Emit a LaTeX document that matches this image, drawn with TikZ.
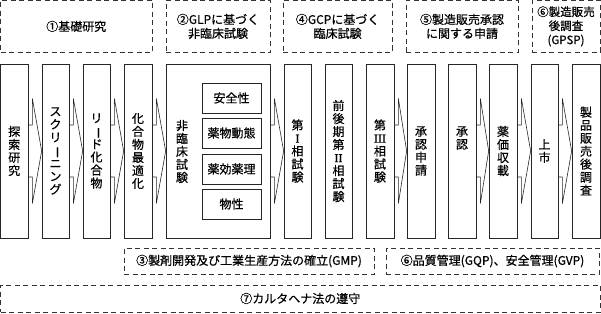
\documentclass[tikz,border=0pt]{standalone}
\usepackage{fontspec}
\setmainfont{Noto Sans CJK JP}[RawFeature={embolden=0.6}]
\newfontfamily\rnfont{Liberation Serif}[RawFeature={embolden=0.6}]
\newcommand\rn[1]{{\rnfont #1}}
\newcommand\vbar{\rotatebox[origin=c]{-90}{ー}}
\usetikzlibrary{calc}
\newcommand\blockarrow[2]{%
  \draw[conn] ($(#1.east)+(0,-26)$) -- ++(4,0) -- ++(0,-26.5) -- (#2.west)
    -- ($(#1.east)+(4,52.5)$) -- ++(0,-26.5) -- ($(#1.east)+(0,26)$);}
\begin{document}
\begin{tikzpicture}[x=1pt,y=-1pt,
  stage/.style={draw=black!85, line width=0.7pt, minimum height=174pt, inner sep=0pt,
    align=center, font=\fontsize{12}{13}\selectfont},
  vtext/.style={inner sep=0pt, align=center, font=\fontsize{12}{13}\selectfont},
  sub/.style={draw=black!85, line width=0.7pt, minimum width=59pt, minimum height=30pt,
    inner sep=0pt, font=\fontsize{12}{14}\selectfont},
  phase/.style={draw=black!80, dash pattern=on 5pt off 3.5pt, line width=0.7pt,
    inner sep=0pt, align=center, font=\fontsize{12}{14}\selectfont},
  conn/.style={draw=black!85, line width=0.6pt, line join=miter}]
\useasboundingbox (0,0) rectangle (601,313);

% top phase boxes
\node[phase, minimum width=151.5pt, minimum height=52.2pt] (p1) at (76.25,26.4) {①基礎研究};
\node[phase, minimum width=104pt, minimum height=52.2pt] (p2) at (218,26.4) {②GLPに基づく\\非臨床試験};
\node[phase, minimum width=108.5pt, minimum height=52.2pt] (p4) at (337.6,26.4) {④GCPに基づく\\臨床試験};
\node[phase, minimum width=112pt, minimum height=52.2pt] (p5) at (462,26.4) {⑤製造販売承認\\に関する申請};
\node[phase, minimum width=68pt, minimum height=52.2pt, font=\fontsize{11.5}{14}\selectfont] (p6) at (566,26.4) {⑥製造販売\\後調査\\(GPSP)};

% stage boxes
\node[stage, minimum width=27.5pt] (s1) at (14.25,151) {探\\索\\研\\究};
\node[stage, minimum width=27pt] (s2) at (55.5,151) {ス\\ク\\リ\\\vbar\\ニ\\ン\\グ};
\node[stage, minimum width=27pt] (s3) at (96.5,151) {リ\\\vbar\\ド\\化\\合\\物};
\node[stage, minimum width=28pt] (s4) at (138,151) {化\\合\\物\\最\\適\\化};
\node[stage, minimum width=104pt] (s5) at (218,151) {};
\node[vtext] (t5) at (182,151.5) {非\\臨\\床\\試\\験};
\node[sub] (n1) at (231.5,98) {安全性};
\node[sub] (n2) at (231.5,133) {薬物動態};
\node[sub] (n3) at (231.5,169) {薬効薬理};
\node[sub] (n4) at (231.5,204) {物性};
\node[stage, minimum width=27pt] (s6) at (297.5,151) {第\\\rn{I}\\相\\試\\験};
\node[stage, minimum width=27pt] (s7) at (338.5,151) {前\\後\\期\\第\\\rn{II}\\相\\試\\験};
\node[stage, minimum width=28pt] (s8) at (380,151) {第\\\rn{III}\\相\\試\\験};
\node[stage, minimum width=28pt] (s9) at (421,151) {承\\認\\申\\請};
\node[stage, minimum width=28pt] (s10) at (462,151) {承\\認\\\phantom{申}\\\phantom{請}};
\node[stage, minimum width=28pt] (s11) at (503,151) {薬\\価\\収\\載};
\node[stage, minimum width=27pt] (s12) at (544.5,151) {上\\市};
\node[stage, minimum width=28pt] (s13) at (586,151) {製\\品\\販\\売\\後\\調\\査};

% block arrows
\blockarrow{s1}{s2}
\blockarrow{s2}{s3}
\blockarrow{s3}{s4}
\blockarrow{s4}{s5}
\blockarrow{s5}{s6}
\blockarrow{s8}{s9}
\blockarrow{s10}{s11}
\blockarrow{s11}{s12}
\blockarrow{s12}{s13}

% bottom phase boxes
\node[phase, minimum width=250pt, minimum height=26pt] (b3) at (249,261) {③製剤開発及び工業生産方法の確立(GMP)};
\node[phase, minimum width=213pt, minimum height=26pt] (b6) at (492.5,261) {⑥品質管理(GQP)、安全管理(GVP)};
\node[phase, minimum width=599.5pt, minimum height=27pt] (b7) at (300.25,298.5) {⑦カルタヘナ法の遵守};
\end{tikzpicture}
\end{document}
